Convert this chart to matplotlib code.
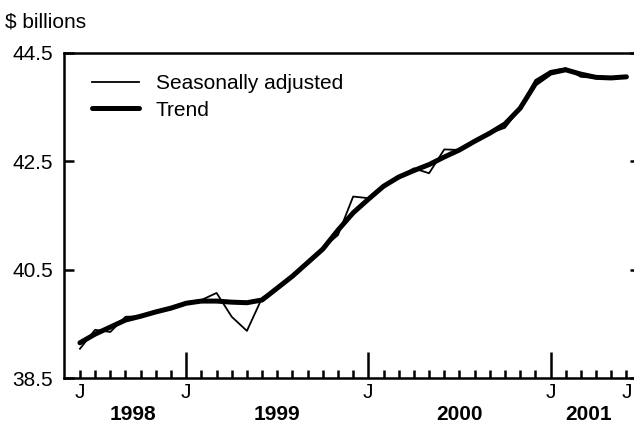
import matplotlib
matplotlib.use("Agg")
import matplotlib.pyplot as plt
import matplotlib.transforms as mtransforms
import numpy as np

plt.rcParams['font.family'] = ['Liberation Sans', 'DejaVu Sans']

# Monthly data, June 1998 .. June 2001 ($ billions)
seasonally_adjusted = [39.04, 39.39, 39.35, 39.63, 39.64, 39.74, 39.81, 39.90,
                       39.94, 40.07, 39.63, 39.37, 39.98, 40.16, 40.40, 40.64,
                       40.90, 41.14, 41.85, 41.82, 42.06, 42.21, 42.37, 42.28,
                       42.72, 42.71, 42.88, 43.02, 43.12, 43.48, 44.00, 44.17,
                       44.22, 44.06, 44.04, 44.04, 44.06]
trend = [39.15, 39.31, 39.44, 39.57, 39.64, 39.72, 39.79, 39.88,
         39.92, 39.92, 39.90, 39.89, 39.94, 40.16, 40.38, 40.63,
         40.88, 41.23, 41.55, 41.80, 42.04, 42.21, 42.33, 42.44,
         42.58, 42.71, 42.87, 43.02, 43.19, 43.48, 43.93, 44.13,
         44.19, 44.11, 44.05, 44.04, 44.06]
month_tick_idx = [0, 7, 19, 31, 36]
month_tick_labels = ["J", "J", "J", "J", "J"]
january_idx = [7, 19, 31]
years = ["1998", "1999", "2000", "2001"]
year_centers = [3.5, 13, 25, 33.5]
yticks = [38.5, 40.5, 42.5, 44.5]

fig = plt.figure(figsize=(6.34, 4.43), dpi=100)
ax = fig.add_axes([64/634, 65/443, 570/634, 325/443])

x = np.arange(len(trend))
ax.plot(x, trend, color='black', lw=3.6, solid_capstyle='round',
        solid_joinstyle='round', label='Trend', zorder=2)
ax.plot(x, seasonally_adjusted, color='black', lw=1.3, solid_joinstyle='round',
        label='Seasonally adjusted', zorder=3)

ax.set_xlim(-1.05, 36.5)
ax.set_ylim(38.5, 44.5)

for s in ['left', 'bottom', 'top']:
    ax.spines[s].set_linewidth(1.8)
ax.spines['right'].set_visible(False)

ax.set_yticks(yticks)
ax.set_yticklabels([f"{v:.1f}" for v in yticks], fontsize=15)
ax.tick_params(axis='y', direction='in', length=7, width=1.8, pad=8,
               right=True, labelright=False)
for t in ax.yaxis.get_major_ticks():
    t.tick2line.set_markersize(3)

ax.set_xticks(january_idx)
ax.set_xticklabels([])
ax.set_xticks(np.arange(0, len(trend)), minor=True)
ax.tick_params(axis='x', which='major', direction='in', length=19, width=1.8)
ax.tick_params(axis='x', which='minor', direction='in', length=6, width=1.8)

trans = mtransforms.blended_transform_factory(ax.transData, fig.transFigure)
for xi, lab in zip(month_tick_idx, month_tick_labels):
    ax.text(xi, 1 - 393/443, lab, transform=trans, fontsize=15, ha='center', va='center')
for xc, yr in zip(year_centers, years):
    ax.text(xc, 1 - 414/443, yr, transform=trans, fontsize=15, fontweight='bold',
            ha='center', va='center')

fig.text(5/634, 1 - 22/443, "$ billions", fontsize=15, ha='left', va='center')

handles, labels = ax.get_legend_handles_labels()
leg = ax.legend(handles[::-1], labels[::-1], loc='upper left', frameon=False,
                fontsize=15, handlelength=2.25, handletextpad=0.8,
                labelspacing=0.35, bbox_to_anchor=(0.035, 0.96), borderaxespad=0)

fig.savefig("out.png", dpi=100)
